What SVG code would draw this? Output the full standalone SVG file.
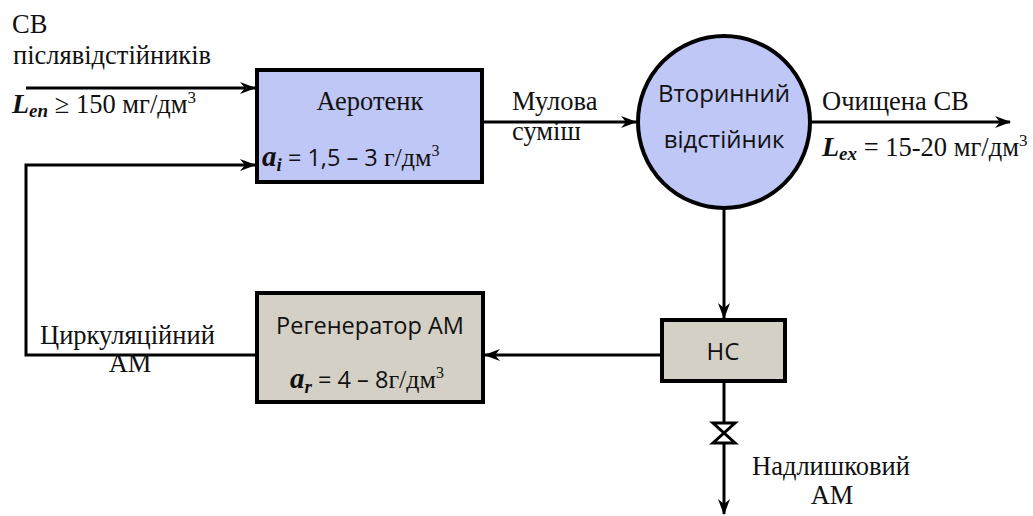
<svg xmlns="http://www.w3.org/2000/svg" width="1033" height="516" viewBox="0 0 1033 516">
<style>
.ln{stroke:#000;stroke-width:3;fill:none}
.blue{fill:#bfc7f7;stroke:#000;stroke-width:4}
.grey{fill:#d4d0c6;stroke:#000;stroke-width:4}
.sf{font-family:"Liberation Serif",serif}
.ss{font-family:"Open Sans",sans-serif}
</style>
<defs>
<marker id="ah" viewBox="0 0 16 12" refX="15" refY="6" markerWidth="16" markerHeight="12" markerUnits="userSpaceOnUse" orient="auto">
<path d="M0,0 L16,6 L0,12 L5,6 Z" fill="#000"/>
</marker>
</defs>
<g id="connectors">
<line class="ln" x1="26" y1="88" x2="255" y2="88" marker-end="url(#ah)"/>
<line class="ln" x1="482" y1="122" x2="636" y2="122" marker-end="url(#ah)"/>
<line class="ln" x1="811" y1="122" x2="1010" y2="122" marker-end="url(#ah)"/>
<line class="ln" x1="724" y1="208" x2="724" y2="318" marker-end="url(#ah)"/>
<line class="ln" x1="662" y1="355" x2="485" y2="355" marker-end="url(#ah)"/>
<polyline class="ln" points="257,355 26,355 26,165 255,165" marker-end="url(#ah)"/>
<line class="ln" x1="724" y1="381" x2="724" y2="423"/>
<line class="ln" x1="724" y1="443" x2="724" y2="514" marker-end="url(#ah)"/>
<path d="M713,423 L735,423 L724,433 Z M713,443 L735,443 L724,433 Z" fill="#fff" stroke="#000" stroke-width="3"/>
</g>
<g id="labels" class="sf" font-size="26.5" fill="#111">
<text x="12" y="33">СВ</text>
<text x="13" y="64">післявідстійників</text>
<text x="12" y="113"><tspan font-weight="bold" font-style="italic" font-size="28">L</tspan><tspan font-weight="bold" font-style="italic" font-size="19" dy="4">en</tspan><tspan dy="-4"> ≥ 150 мг/дм</tspan><tspan font-size="17" dy="-10">3</tspan></text>
<text x="512" y="110">Мулова</text>
<text x="512" y="140">суміш</text>
<text x="822" y="110">Очищена СВ</text>
<text x="822" y="156"><tspan font-weight="bold" font-style="italic" font-size="28">L</tspan><tspan font-weight="bold" font-style="italic" font-size="19" dy="4">ex</tspan><tspan dy="-4"> = 15-20 мг/дм</tspan><tspan font-size="17" dy="-10">3</tspan></text>
<text x="40" y="344">Циркуляційний</text>
<text x="130" y="372" text-anchor="middle">АМ</text>
<text x="752" y="475">Надлишковий</text>
<text x="832" y="504" text-anchor="middle">АМ</text>
</g>
<g id="aerotenk">
<rect class="blue" x="257" y="70" width="225" height="112"/>
<text class="sf" x="370" y="110" text-anchor="middle" font-size="26.5" fill="#111">Аеротенк</text>
<text class="sf" x="262" y="166" font-size="26" fill="#111"><tspan font-weight="bold" font-style="italic" font-size="29">a</tspan><tspan font-weight="bold" font-style="italic" font-size="19" dy="5">i</tspan><tspan class="ss" font-size="23.5" dy="-5"> = 1,5 – 3 </tspan><tspan>г/дм</tspan><tspan font-size="16" dy="-10">3</tspan></text>
</g>
<g id="vtorynnyi">
<circle cx="724" cy="122" r="86" fill="#bfc7f7" stroke="#000" stroke-width="4"/>
<text class="ss" x="724" y="102" text-anchor="middle" font-size="24" fill="#111">Вторинний</text>
<text class="ss" x="724" y="148" text-anchor="middle" font-size="24" fill="#111">відстійник</text>
</g>
<g id="regenerator">
<rect class="grey" x="257" y="293" width="226" height="109"/>
<text class="ss" x="370" y="334" text-anchor="middle" font-size="23.5" fill="#111">Регенератор АМ</text>
<text class="sf" x="290" y="388" font-size="26" fill="#111"><tspan font-weight="bold" font-style="italic" font-size="29">a</tspan><tspan font-weight="bold" font-style="italic" font-size="19" dy="5">r</tspan><tspan class="ss" font-size="23.5" dy="-5"> = 4 – 8</tspan><tspan>г/дм</tspan><tspan font-size="16" dy="-10">3</tspan></text>
</g>
<g id="hc">
<rect class="grey" x="662" y="320" width="123" height="61"/>
<text class="ss" x="723" y="360" text-anchor="middle" font-size="24" fill="#111">НС</text>
</g>
</svg>
